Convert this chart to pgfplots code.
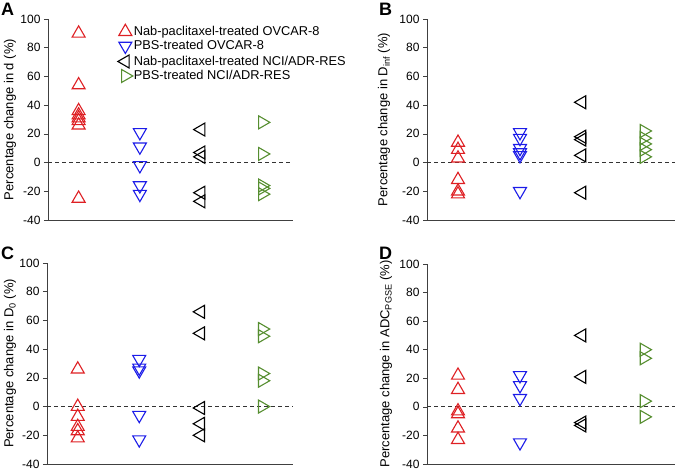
\documentclass[border=0pt]{standalone}
\usepackage{fontspec}
\setmainfont{Liberation Sans}
\usepackage{pgfplots}
\pgfplotsset{compat=1.18}
\definecolor{cred}{RGB}{222,32,36}
\definecolor{cblue}{RGB}{28,28,232}
\definecolor{cgreen}{RGB}{86,142,48}
\pgfplotsset{
  panel/.style={
    scale only axis, clip=false,
    xmin=0, xmax=4, ymin=-40, ymax=100,
    ytick={-40,-20,0,20,40,60,80,100}, xtick=\empty,
    axis x line*=bottom, axis y line*=left,
    axis line style={-, line width=0.6pt, black!75},
    tick style={line width=0.6pt, black!75},
    tick align=outside, major tick length=4pt,
    /pgf/number format/assume math mode=true,
    yticklabel style={font=\fontsize{12}{14}\selectfont},
    ylabel style={font=\fontsize{13}{15}\selectfont, at={(axis description cs:0,0.5)}, anchor=center},
  },
  ser1/.style={only marks, mark=triangle, mark size=7.5pt, mark options={draw=cred, line width=1.1pt, fill=none}},
  ser2/.style={only marks, mark=triangle, mark size=7.5pt, mark options={draw=cblue, line width=1.1pt, fill=none, rotate=180}},
  ser3/.style={only marks, mark=triangle, mark size=7.5pt, mark options={draw=black, line width=1.1pt, fill=none, rotate=90}},
  ser4/.style={only marks, mark=triangle, mark size=7.5pt, mark options={draw=cgreen, line width=1.1pt, fill=none, rotate=-90}},
  zline/.style={black!80, line width=0.8pt, dash pattern=on 4pt off 3pt, forget plot},
}
\begin{document}
\begin{tikzpicture}
\useasboundingbox (0pt,0pt) rectangle (678pt,471pt);
% Panel A
\begin{axis}[panel, at={(48pt,251pt)}, anchor=south west, width=245pt, height=201pt,
  ylabel={Percentage change in d (\%)}, ylabel style={yshift=38pt},
  legend style={draw=none, fill=none, at={(0.272,0.985)}, anchor=north west,
    font=\fontsize{12.8}{15}\selectfont, row sep=1.5pt, legend cell align=left,
    nodes={inner sep=1pt}},
  legend image code/.code={\draw[#1] plot coordinates {(0.25cm,0cm)};}]
\addplot[zline] coordinates {(0,0) (4,0)};
\addplot[ser1] coordinates {(0.5,90) (0.5,54) (0.5,36) (0.5,33) (0.5,31) (0.5,29) (0.5,26) (0.5,-25)};
\addlegendentry{Nab-paclitaxel-treated OVCAR-8}
\addplot[ser2] coordinates {(1.5,21) (1.5,11) (1.5,-2) (1.5,-16) (1.5,-22)};
\addlegendentry{PBS-treated OVCAR-8}
\addplot[ser3] coordinates {(2.5,23) (2.5,7) (2.5,4) (2.5,-21) (2.5,-27)};
\addlegendentry{Nab-paclitaxel-treated NCI/ADR-RES}
\addplot[ser4] coordinates {(3.5,28) (3.5,6) (3.5,-16) (3.5,-18) (3.5,-22)};
\addlegendentry{PBS-treated NCI/ADR-RES}
\end{axis}
% Panel B
\begin{axis}[panel, at={(427pt,251pt)}, anchor=south west, width=248pt, height=201pt,
  ylabel={Percentage change in D\textsubscript{inf} (\%)}, ylabel style={yshift=43pt}]
\addplot[zline] coordinates {(0,0) (4,0)};
\addplot[ser1] coordinates {(0.5,14) (0.5,9) (0.5,3) (0.5,-12) (0.5,-20) (0.5,-22)};
\addplot[ser2] coordinates {(1.5,21) (1.5,17) (1.5,10) (1.5,7) (1.5,5) (1.5,-20)};
\addplot[ser3] coordinates {(2.5,42) (2.5,18) (2.5,16) (2.5,5) (2.5,-21)};
\addplot[ser4] coordinates {(3.5,22) (3.5,17) (3.5,13) (3.5,9) (3.5,4)};
\end{axis}
% Panel C
\begin{axis}[panel, at={(47pt,7pt)}, anchor=south west, width=246pt, height=201pt,
  ylabel={Percentage change in D\textsubscript{0} (\%)}, ylabel style={yshift=37pt}]
\addplot[zline] coordinates {(0,0) (4,0)};
\addplot[ser1] coordinates {(0.5,26) (0.5,0) (0.5,-7) (0.5,-14) (0.5,-17) (0.5,-22)};
\addplot[ser2] coordinates {(1.5,33) (1.5,27) (1.5,25) (1.5,-6) (1.5,-23)};
\addplot[ser3] coordinates {(2.5,66) (2.5,51) (2.5,-1) (2.5,-12) (2.5,-20)};
\addplot[ser4] coordinates {(3.5,54) (3.5,49) (3.5,23) (3.5,18) (3.5,0)};
\end{axis}
% Panel D
\begin{axis}[panel, at={(427pt,7pt)}, anchor=south west, width=248pt, height=200pt,
  ylabel={Percentage change in ADC\textsubscript{PGSE} (\%)}, ylabel style={yshift=41pt}]
\addplot[zline] coordinates {(0,0) (4,0)};
\addplot[ser1] coordinates {(0.5,22) (0.5,12) (0.5,-3) (0.5,-5) (0.5,-15) (0.5,-23)};
\addplot[ser2] coordinates {(1.5,22) (1.5,15) (1.5,6) (1.5,-25)};
\addplot[ser3] coordinates {(2.5,50) (2.5,21) (2.5,-11) (2.5,-13)};
\addplot[ser4] coordinates {(3.5,40) (3.5,34) (3.5,4) (3.5,-7)};
\end{axis}
\node[font=\bfseries\fontsize{18}{18}\selectfont, anchor=north west, inner sep=0pt] at (1pt,468pt) {A};
\node[font=\bfseries\fontsize{18}{18}\selectfont, anchor=north west, inner sep=0pt] at (379pt,468pt) {B};
\node[font=\bfseries\fontsize{18}{18}\selectfont, anchor=north west, inner sep=0pt] at (1pt,224pt) {C};
\node[font=\bfseries\fontsize{18}{18}\selectfont, anchor=north west, inner sep=0pt] at (379pt,224pt) {D};
\end{tikzpicture}
\end{document}
